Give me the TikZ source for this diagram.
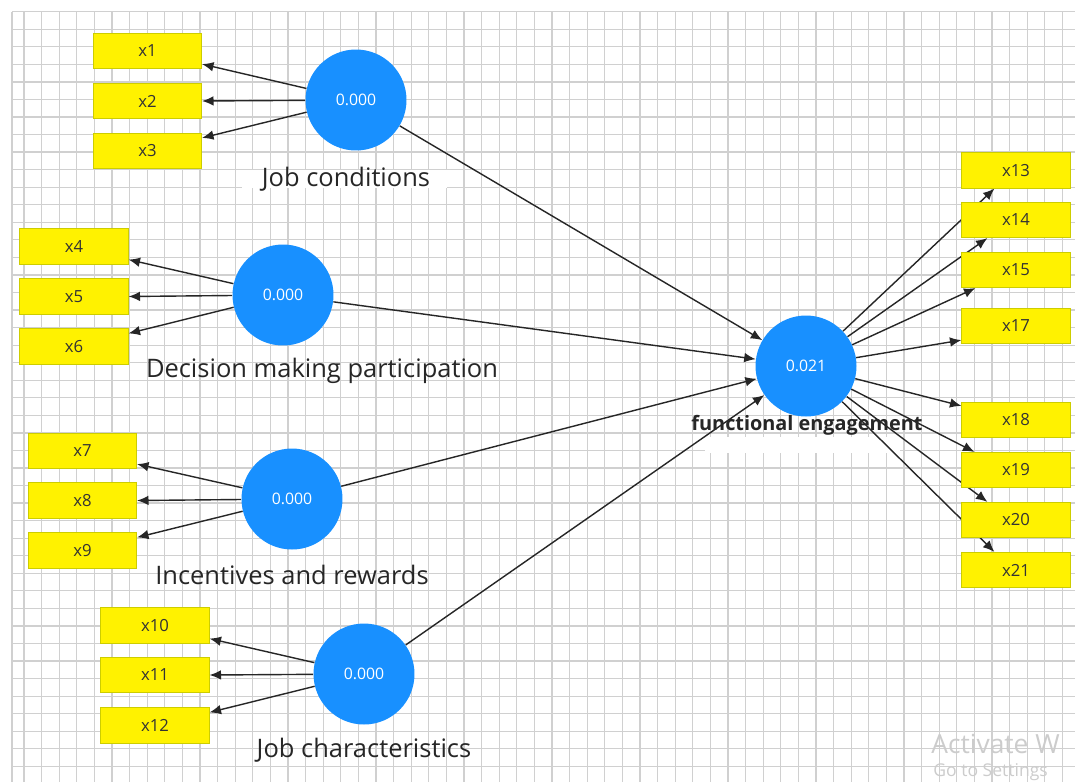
\documentclass[tikz,border=0pt]{standalone}
\usepackage{fontspec}
\setmainfont{Open Sans}
\usetikzlibrary{calc,backgrounds,arrows.meta}

\definecolor{lvblue}{RGB}{24,144,255}
\definecolor{boxline}{RGB}{205,205,0}
\definecolor{gridgray}{RGB}{208,208,208}

\begin{document}
\begin{tikzpicture}[x=0.02cm, y=-0.02cm,
  ind/.style={draw=boxline, fill=yellow, minimum width=2.17cm, minimum height=0.71cm,
    inner sep=0pt, text=black!80, font=\fontsize{9.5}{10}\selectfont},
  lv/.style={circle, fill=lvblue, minimum size=2.02cm, inner sep=0pt,
    text=white, font=\fontsize{9}{10}\selectfont},
  lvname/.style={inner sep=1pt, text=black!85, font=\fontsize{14.5}{16}\selectfont},
  load/.style={-{Latex[length=6.5pt,width=5.5pt]}, black!85, line width=0.8pt}]

\useasboundingbox (0,0) rectangle (1075,782);

% -------- grid -----------
\begin{pgfonlayer}{background}
\fill[white] (0,0) rectangle (1075,782);
\foreach \i in {0,...,59}
  \draw[gridgray, line width=0.7pt] ({24+17.6*\i},12) -- ({24+17.6*\i},782);
\foreach \j in {0,...,43}
  \draw[gridgray, line width=0.7pt] (12,{11.7+17.55*\j}) -- (1075,{11.7+17.55*\j});
\draw[gridgray, line width=0.7pt] (12,12) -- (12,782);
\fill[white] (242,170) rectangle (447,188);
\fill[white] (705,437) rectangle (900,453);
\end{pgfonlayer}

% -------- indicators -----------
\node[ind] (x1) at (147.5,51) {x1};
\node[ind] (x2) at (147.5,101) {x2};
\node[ind] (x3) at (147.5,151) {x3};
\node[ind] (x4) at (74,246.5) {x4};
\node[ind] (x5) at (74,296.5) {x5};
\node[ind] (x6) at (74,346.5) {x6};
\node[ind] (x7) at (82.5,451) {x7};
\node[ind] (x8) at (82.5,500.5) {x8};
\node[ind] (x9) at (82.5,550.5) {x9};
\node[ind] (x10) at (155,625.5) {x10};
\node[ind] (x11) at (155,675) {x11};
\node[ind] (x12) at (155,725.5) {x12};

\node[ind] (x13) at (1016,170.5) {x13};
\node[ind] (x14) at (1016,220) {x14};
\node[ind] (x15) at (1016,270) {x15};
\node[ind] (x17) at (1016,326) {x17};
\node[ind] (x18) at (1016,420) {x18};
\node[ind] (x19) at (1016,470) {x19};
\node[ind] (x20) at (1016,520) {x20};
\node[ind] (x21) at (1016,570) {x21};

% -------- latent variables -----------
\node[lv] (jc) at (356,100) {0.000};
\node[lv] (dm) at (283,295) {0.000};
\node[lv] (ir) at (292,499) {0.000};
\node[lv] (jch) at (364,674) {0.000};
\node[lv] (fe) at (806,366) {0.021};

\node[lvname] (jcname) at (346,179) {Job conditions};
\node[lvname] (dmname) at (322,371) {Decision making participation};
\node[lvname] (irname) at (292,575) {Incentives and rewards};
\node[lvname] (jchname) at (364,750) {Job characteristics};
\node[lvname, font=\fontsize{11.3}{13}\selectfont\bfseries] (fename) at (807,425) {functional engagement};

% -------- paths -----------
\begin{pgfonlayer}{background}
\draw[load] (jc) -- ($(x1.south east)+(0,-5)$);
\draw[load] (jc) -- (x2.east);
\draw[load] (jc) -- ($(x3.north east)+(0,5)$);
\draw[load] (dm) -- ($(x4.south east)+(0,-5)$);
\draw[load] (dm) -- (x5.east);
\draw[load] (dm) -- ($(x6.north east)+(0,5)$);
\draw[load] (ir) -- ($(x7.south east)+(0,-5)$);
\draw[load] (ir) -- (x8.east);
\draw[load] (ir) -- ($(x9.north east)+(0,5)$);
\draw[load] (jch) -- ($(x10.south east)+(0,-5)$);
\draw[load] (jch) -- (x11.east);
\draw[load] (jch) -- ($(x12.north east)+(0,5)$);

\draw[load] (jc) -- (fe);
\draw[load] (dm) -- (fe);
\draw[load] (ir) -- (fe);
\draw[load] (jch) -- (fe);

\draw[load] (fe) -- ($(x13.south west)+(33,0)$);
\draw[load] (fe) -- ($(x14.south west)+(26,0)$);
\draw[load] (fe) -- ($(x15.south west)+(14,0)$);
\draw[load] (fe) -- ($(x17.south west)+(0,-4)$);
\draw[load] (fe) -- ($(x18.north west)+(0,4)$);
\draw[load] (fe) -- ($(x19.north west)+(13,0)$);
\draw[load] (fe) -- ($(x20.north west)+(26,0)$);
\draw[load] (fe) -- ($(x21.north west)+(33,0)$);
\end{pgfonlayer}

% -------- watermark -----------
\node[anchor=west, inner sep=0pt, text=black!20, font=\fontsize{15}{17}\selectfont] (actwin) at (931,744) {Activate W};
\node[anchor=north west, inner sep=0pt, text=black!20, font=\fontsize{10}{12}\selectfont] (gotoset) at (933,763) {Go to Settings};
\end{tikzpicture}
\end{document}
